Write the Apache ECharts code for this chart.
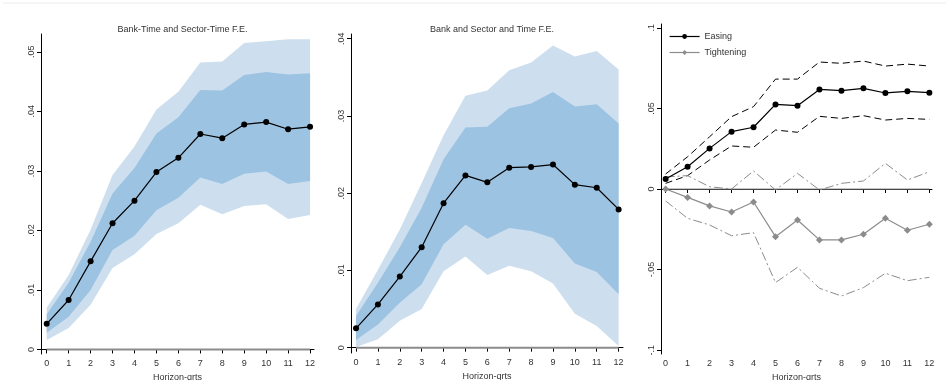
<!DOCTYPE html>
<html>
<head>
<meta charset="utf-8">
<script src="https://cdn.jsdelivr.net/npm/echarts@6/dist/echarts.min.js"></script>
<style>
  html, body { margin: 0; padding: 0; background: #fff; }
  #chart { width: 946px; height: 380px; }
</style>
</head>
<body>
<div id="chart"></div>
<script>
const horizon = [0, 1, 2, 3, 4, 5, 6, 7, 8, 9, 10, 11, 12];

// panel 1: Bank-Time and Sector-Time F.E.
const p1Est = [0.0043, 0.0083, 0.0148, 0.0212, 0.0250, 0.0298, 0.0322, 0.0362, 0.0355, 0.0378, 0.0382, 0.0370, 0.0374];
const p1Lo90 = [0.0016, 0.0036, 0.0075, 0.0137, 0.0160, 0.0194, 0.0212, 0.0243, 0.0227, 0.0241, 0.0244, 0.0219, 0.0226];
const p1Hi90 = [0.0070, 0.0125, 0.0201, 0.0293, 0.0341, 0.0403, 0.0433, 0.0482, 0.0484, 0.0515, 0.0518, 0.0521, 0.0521];
const p1Lo68 = [0.0028, 0.0055, 0.0100, 0.0167, 0.0191, 0.0234, 0.0255, 0.0289, 0.0278, 0.0295, 0.0299, 0.0278, 0.0283];
const p1Hi68 = [0.0059, 0.0112, 0.0181, 0.0262, 0.0305, 0.0363, 0.0390, 0.0436, 0.0435, 0.0461, 0.0466, 0.0462, 0.0464];

// panel 2: Bank and Sector and Time F.E.
const p2Est = [0.0025, 0.0056, 0.0092, 0.0130, 0.0187, 0.0223, 0.0214, 0.0233, 0.0234, 0.0237, 0.0211, 0.0207, 0.0179];
const p2Lo90 = [0.0001, 0.0011, 0.0035, 0.0050, 0.0099, 0.0118, 0.0094, 0.0106, 0.0099, 0.0083, 0.0044, 0.0028, 0.0002];
const p2Hi90 = [0.0050, 0.0101, 0.0153, 0.0213, 0.0275, 0.0326, 0.0333, 0.0359, 0.0369, 0.0391, 0.0377, 0.0384, 0.0360];
const p2Lo68 = [0.0010, 0.0030, 0.0058, 0.0082, 0.0134, 0.0159, 0.0141, 0.0155, 0.0151, 0.0142, 0.0109, 0.0098, 0.0069];
const p2Hi68 = [0.0041, 0.0084, 0.0130, 0.0181, 0.0244, 0.0285, 0.0286, 0.0310, 0.0316, 0.0331, 0.0312, 0.0315, 0.0290];

// panel 3: easing vs tightening
const easeEst = [0.0062, 0.0138, 0.0252, 0.0356, 0.0383, 0.0525, 0.0517, 0.0618, 0.0610, 0.0625, 0.0596, 0.0606, 0.0598];
const easeHi = [0.0093, 0.0200, 0.0324, 0.0449, 0.0511, 0.0682, 0.0682, 0.0788, 0.0780, 0.0794, 0.0763, 0.0775, 0.0763];
const easeLo = [0.0035, 0.0083, 0.0180, 0.0267, 0.0259, 0.0366, 0.0352, 0.0451, 0.0438, 0.0455, 0.0428, 0.0438, 0.0432];
const tightEst = [0.0000, -0.0052, -0.0105, -0.0143, -0.0081, -0.0296, -0.0192, -0.0316, -0.0316, -0.0281, -0.0182, -0.0256, -0.0219];
const tightHi = [0.0075, 0.0083, 0.0014, 0.0000, 0.0112, -0.0006, 0.0097, -0.0006, 0.0035, 0.0050, 0.0159, 0.0056, 0.0107];
const tightLo = [-0.0074, -0.0182, -0.0223, -0.0290, -0.0271, -0.0581, -0.0486, -0.0616, -0.0664, -0.0612, -0.0523, -0.0569, -0.0548];

const p1Ticks = [0, 0.01, 0.02, 0.03, 0.04, 0.05];
const p2Ticks = [0, 0.01, 0.02, 0.03, 0.04];
const p3Ticks = [-0.1, -0.05, 0, 0.05, 0.1];

const titles = ["Bank-Time and Sector-Time F.E.", "Bank and Sector and Time F.E."];

const FONT = "Liberation Sans";
const LIGHT = "#cddfee";
const DARK = "#9dc3e2";

const fmt = (v) => {
  if (Math.abs(v) < 1e-9) return "0";
  let s = String(+v.toFixed(3));
  return s.replace("0.", ".");
};
const pairs = (arr) => horizon.map((h, i) => [h, arr[i]]);

const grids = [
  { left: 41, top: 34, width: 273, height: 320, outerBoundsMode: "none" },
  { left: 351, top: 34, width: 272, height: 319, outerBoundsMode: "none" },
  { left: 661, top: 24, width: 271, height: 330, outerBoundsMode: "none" },
];

const xAxis = grids.map((g, i) => ({
  type: "value",
  gridIndex: i,
  min: [-0.26, -0.23, -0.21][i],
  max: [12.18, 12.2, 12.12][i],
  name: "Horizon-qrts",
  nameLocation: "middle",
  nameGap: 11,
  nameTextStyle: { fontFamily: FONT, fontSize: 9, color: "#333" },
  splitLine: { show: false },
  axisLine: { lineStyle: { color: "#000", width: 1 } },
  axisTick: { customValues: horizon, length: 4, lineStyle: { color: "#000" } },
  axisLabel: { customValues: horizon, fontFamily: FONT, fontSize: 9, color: "#333", margin: 5 },
}));

const yTicks = [p1Ticks, p2Ticks, p3Ticks];
const yAxis = grids.map((g, i) => ({
  type: "value",
  gridIndex: i,
  min: [-0.00077, -0.00069, -0.1024][i],
  max: [0.053, 0.0406, 0.1024][i],
  splitLine: { show: false },
  axisLine: { show: true, onZero: false, lineStyle: { color: "#000", width: 1 } },
  axisTick: { customValues: yTicks[i], length: 4, lineStyle: { color: "#000" } },
  axisLabel: {
    customValues: yTicks[i], rotate: 90, fontFamily: FONT, fontSize: 9,
    color: "#333", margin: 5, formatter: fmt,
  },
}));

// confidence band as one polygon through the axis scales
function bandSeries(idx, lo, hi, color) {
  return {
    type: "custom", xAxisIndex: idx, yAxisIndex: idx, silent: true,
    data: horizon.map((h, i) => [h, lo[i], hi[i]]),
    renderItem: (params, api) => {
      if (params.dataIndex !== 0) return null;
      const pts = [];
      horizon.forEach((h, i) => pts.push(api.coord([h, hi[i]])));
      for (let i = horizon.length - 1; i >= 0; i--) pts.push(api.coord([horizon[i], lo[i]]));
      return { type: "polygon", shape: { points: pts }, style: { fill: color, stroke: null } };
    },
  };
}

function zeroLine(idx, width) {
  return {
    type: "line", xAxisIndex: idx, yAxisIndex: idx, silent: true,
    data: horizon.map((h) => [h, 0]), symbol: "none",
    lineStyle: { color: "#8c8c8c", width: width },
  };
}

function estSeries(idx, arr) {
  return {
    type: "line", xAxisIndex: idx, yAxisIndex: idx, data: pairs(arr),
    symbol: "circle", symbolSize: 6,
    itemStyle: { color: "#000" }, lineStyle: { color: "#000", width: 1.2 },
  };
}

const series = [
  bandSeries(0, p1Lo90, p1Hi90, LIGHT),
  bandSeries(0, p1Lo68, p1Hi68, DARK),
  zeroLine(0, 2),
  estSeries(0, p1Est),
  bandSeries(1, p2Lo90, p2Hi90, LIGHT),
  bandSeries(1, p2Lo68, p2Hi68, DARK),
  zeroLine(1, 2),
  estSeries(1, p2Est),
  zeroLine(2, 1),
  {
    type: "line", xAxisIndex: 2, yAxisIndex: 2, data: pairs(easeHi), symbol: "none",
    lineStyle: { color: "#000", width: 1, type: [7, 4] }, silent: true,
  },
  {
    type: "line", xAxisIndex: 2, yAxisIndex: 2, data: pairs(easeLo), symbol: "none",
    lineStyle: { color: "#000", width: 1, type: [7, 4] }, silent: true,
  },
  {
    type: "line", xAxisIndex: 2, yAxisIndex: 2, data: pairs(tightHi), symbol: "none",
    lineStyle: { color: "#8c8c8c", width: 1, type: [9, 3, 2, 3] }, silent: true,
  },
  {
    type: "line", xAxisIndex: 2, yAxisIndex: 2, data: pairs(tightLo), symbol: "none",
    lineStyle: { color: "#8c8c8c", width: 1, type: [9, 3, 2, 3] }, silent: true,
  },
  {
    name: "Easing", type: "line", xAxisIndex: 2, yAxisIndex: 2, data: pairs(easeEst),
    symbol: "circle", symbolSize: 6,
    itemStyle: { color: "#000" }, lineStyle: { color: "#000", width: 1.2 },
  },
  {
    name: "Tightening", type: "line", xAxisIndex: 2, yAxisIndex: 2, data: pairs(tightEst),
    symbol: "diamond", symbolSize: 7,
    itemStyle: { color: "#8c8c8c" }, lineStyle: { color: "#8c8c8c", width: 1.2 },
  },
];

const chart = echarts.init(document.getElementById("chart"), null, { renderer: "canvas" });
chart.setOption({
  animation: false,
  backgroundColor: "#fff",
  textStyle: { fontFamily: FONT },
  title: titles.map((t, i) => ({
    text: t,
    left: grids[i].left + grids[i].width / 2,
    top: 20,
    textAlign: "center",
    textStyle: { fontFamily: FONT, fontSize: 9, fontWeight: "normal", color: "#333" },
  })),
  legend: {
    data: ["Easing", "Tightening"],
    orient: "vertical",
    left: 664,
    top: 27,
    itemWidth: 30,
    itemHeight: 6,
    itemGap: 7,
    lineStyle: { width: 1.2 },
    textStyle: { fontFamily: FONT, fontSize: 9, color: "#333" },
  },
  graphic: [{
    type: "line", shape: { x1: 3, y1: 3, x2: 946, y2: 3 },
    style: { stroke: "#ececec", lineWidth: 1 },
  }],
  grid: grids,
  xAxis: xAxis,
  yAxis: yAxis,
  series: series,
});
</script>
</body>
</html>
